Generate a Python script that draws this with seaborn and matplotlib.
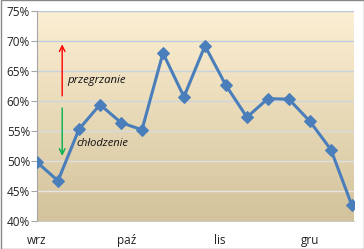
import numpy as np
import pandas as pd
import matplotlib
matplotlib.use("Agg")
import matplotlib.pyplot as plt
import seaborn as sns

# data
start_date = "2012-09-01"
values = [49.8, 46.7, 55.3, 59.4, 56.4, 55.2, 68.0, 60.7, 69.2, 62.6, 57.3, 60.4, 60.3, 56.6, 51.9, 42.6]
month_ticks = ["2012-09-01", "2012-10-01", "2012-11-01", "2012-12-01"]
month_labels = ["wrz", "paź", "lis", "gru"]
y_ticks = [40, 45, 50, 55, 60, 65, 70, 75]

dates = pd.date_range(start_date, periods=len(values), freq="7D")
df = pd.DataFrame({"date": dates, "value": values})

sns.set_style("white")
plt.rcParams["font.family"] = ["Open Sans", "DejaVu Sans"]

fig = plt.figure(figsize=(3.64, 2.49), dpi=100)
fig.patch.set_facecolor("white")
ax = fig.add_axes([37/364, 28/249, 317/364, 210/249])

# gradient background
top = np.array([253, 239, 211]) / 255
bot = np.array([211, 195, 156]) / 255
t = np.linspace(0, 1, 256)[:, None]
grad = (top[None, :] * (1 - t) + bot[None, :] * t)[:, None, :]
ax.imshow(grad, extent=[0, 1, 0, 1], transform=ax.transAxes, aspect="auto", zorder=0)

sns.lineplot(data=df, x="date", y="value", ax=ax, color="#4A7EBB", linewidth=2.2,
             marker="D", markersize=6, markeredgecolor="#4A7EBB", zorder=3)

x0 = dates[0]
x1 = dates[-1] + pd.Timedelta(days=0.7)
ax.set_xlim(x0, x1)
ax.set_ylim(40, 75)
ax.set_yticks(y_ticks)
ax.set_yticklabels([f"{v}%" for v in y_ticks])
ax.set_xticks(pd.to_datetime(month_ticks))
ax.set_xticklabels(month_labels)
ax.set_xlabel("")
ax.set_ylabel("")

gtop = np.array([184, 199, 222]) / 255
gbot = np.array([236, 234, 228]) / 255
for v in y_ticks[1:]:
    f = (75 - v) / 35
    ax.axhline(v, color=tuple(gtop * (1 - f) + gbot * f), linewidth=1, zorder=1)

for s in ["top", "right"]:
    ax.spines[s].set_visible(False)
ax.spines["left"].set_color("#A6A6A6")
ax.spines["bottom"].set_color("#BFBFBF")
ax.spines["left"].set_linewidth(0.8)
ax.spines["bottom"].set_linewidth(0.6)

ax.tick_params(axis="y", which="both", left=True, length=4, width=0.8, color="#A6A6A6",
               labelsize=8.5, pad=1, labelcolor="#222222")
ax.tick_params(axis="x", which="both", bottom=False, labelsize=8.5, pad=6, labelcolor="#222222")

# annotations
xa = dates[1] + pd.Timedelta(days=1.4)
ax.annotate("", xy=(xa, 69.9), xytext=(xa, 60.4),
            arrowprops=dict(arrowstyle="->", color="#FF0000", lw=1.0), zorder=4)
ax.annotate("", xy=(xa, 50.4), xytext=(xa, 59.3),
            arrowprops=dict(arrowstyle="->", color="#00B050", lw=1.0), zorder=4)
ax.text(dates[1] + pd.Timedelta(days=3.0), 63.4, "przegrzanie", fontsize=8.2, style="italic",
        va="center", ha="left", color="#111111", zorder=4)
ax.text(dates[1] + pd.Timedelta(days=6.0), 52.9, "chłodzenie", fontsize=8.0, style="italic",
        va="center", ha="left", color="#111111", zorder=4)

# outer border
fig.add_artist(plt.Rectangle((0.5/364, 0.5/249), 363/364, 248/249, transform=fig.transFigure,
                             fill=False, edgecolor="#888888", linewidth=1))

fig.savefig("out.png", dpi=100)
